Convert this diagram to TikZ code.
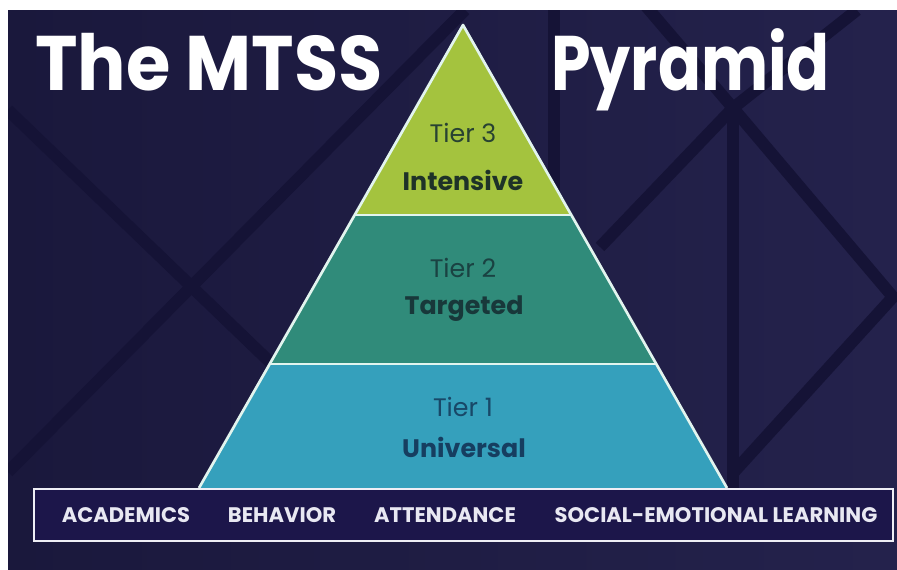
\documentclass[tikz,border=0pt]{standalone}
\usepackage{fontspec}
\setmainfont{Poppins}

\tikzset{
  tier num/.style={inner sep=0.75pt, font=\fontsize{19}{22}\selectfont},
  tier name/.style={inner sep=0.75pt, font=\fontsize{19}{22}\selectfont\bfseries},
  area label/.style={inner sep=0.75pt, font=\fontsize{15.8}{18}\selectfont\bfseries, color={rgb, 255:red, 232; green, 232; blue, 242 }},
  title text/.style={inner sep=0pt, anchor=base west, font=\fontsize{58}{68}\selectfont\bfseries, color=white},
  bg band/.style={line width=9pt, color={rgb, 255:red, 21; green, 19; blue, 54 }},
  tier edge/.style={line width=2pt, color={rgb, 255:red, 226; green, 244; blue, 238 }, line join=round},
}

\begin{document}
\begin{tikzpicture}[x=0.75pt,y=0.75pt,yscale=-1,xscale=1]
\useasboundingbox (0,0) rectangle (897,569);
\fill [white] (0,0) rectangle (897,569);

%Shape: Background [id:bg]
\shade [left color={rgb, 255:red, 26; green, 24; blue, 60 }, right color={rgb, 255:red, 36; green, 34; blue, 76 }] (8,10) rectangle (897,569);

%Background bands
\begin{scope}
\clip (8,10) rectangle (897,569);
\draw [bg band]   (8,110) -- (300,391) ;
\draw [bg band]   (465,10) -- (8,472) ;
\draw [bg band]   (554,10) -- (554,200) ;
\draw [bg band]   (733,100) -- (733,490) ;
\draw [bg band]   (645,5) -- (733,108) -- (893,297) -- (733,473) ;
\draw [bg band]   (857,10) -- (733,108) -- (600,247) ;
\end{scope}

%Shape: Tier 1 [id:tier1]
\fill [color={rgb, 255:red, 53; green, 160; blue, 188 }]   (270,364) -- (656,364) -- (727,488) -- (199,488) -- cycle ;
%Shape: Tier 2 [id:tier2]
\fill [color={rgb, 255:red, 48; green, 139; blue, 122 }]   (355,215) -- (571,215) -- (656,364) -- (270,364) -- cycle ;
%Shape: Tier 3 [id:tier3]
\fill [color={rgb, 255:red, 164; green, 195; blue, 62 }]   (463,25) -- (571,215) -- (355,215) -- cycle ;
%Straight Lines
\draw [tier edge]   (199,488) -- (463,25) -- (727,488) ;
\draw [tier edge]   (355,215) -- (571,215) ;
\draw [tier edge]   (270,364) -- (656,364) ;

%Shape: Bottom box [id:areas]
\draw [line width=2pt, color={rgb, 255:red, 238; green, 238; blue, 245 }, fill={rgb, 255:red, 28; green, 22; blue, 74 }]   (34,489) rectangle (893,541) ;

% Text Node
\node [title text] (mtss) at (35,90) {\scalebox{0.93}[1]{The MTSS}};
% Text Node
\node [title text] (pyr) at (551,90) {\scalebox{0.82}[1]{Pyramid}};

% Text Node
\node [tier num, color={rgb, 255:red, 40; green, 66; blue, 50 }] (t3) at (463,133) {Tier 3};
\node [tier name, color={rgb, 255:red, 30; green, 50; blue, 40 }] (t3name) at (463,180) {Intensive};
% Text Node
\node [tier num, color={rgb, 255:red, 26; green, 66; blue, 66 }] (t2) at (463,268) {Tier 2};
\node [tier name, color={rgb, 255:red, 24; green, 56; blue, 58 }] (t2name) at (464,309) {Targeted};
% Text Node
\node [tier num, color={rgb, 255:red, 24; green, 72; blue, 104 }] (t1) at (463,407) {Tier 1};
\node [tier name, color={rgb, 255:red, 22; green, 62; blue, 96 }] (t1name) at (464,447) {Universal};

% Text Node
\node [area label] (acad) at (126,515) {ACADEMICS};
\node [area label] (behav) at (282,515) {BEHAVIOR};
\node [area label] (attend) at (445,515) {ATTENDANCE};
\node [area label] (sel) at (716,515) {SOCIAL-EMOTIONAL LEARNING};

\end{tikzpicture}
\end{document}
